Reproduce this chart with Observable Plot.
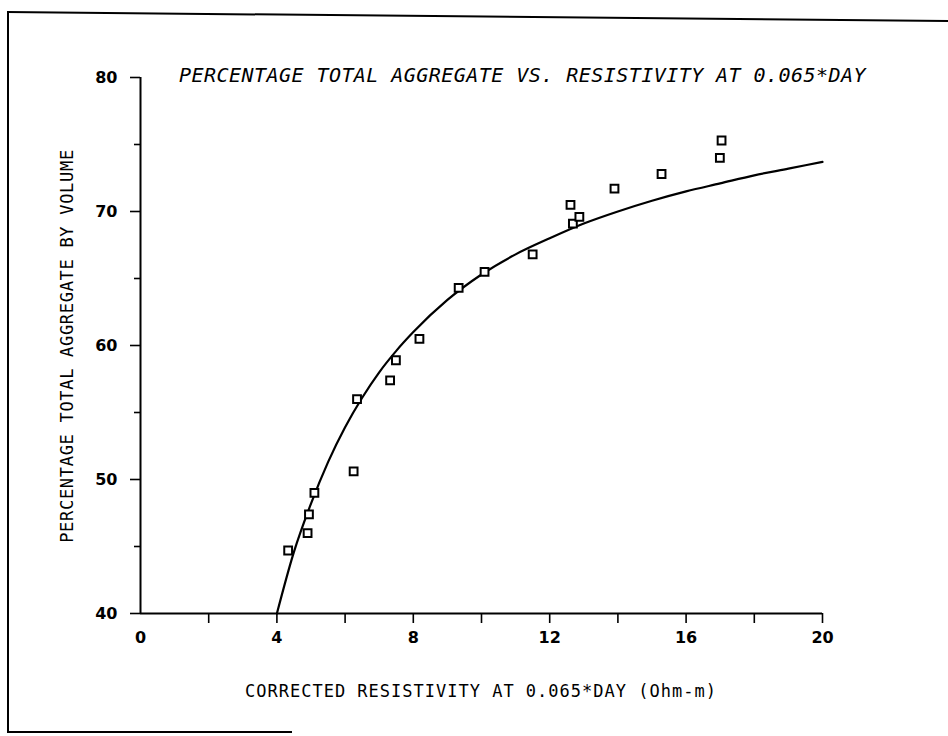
<!DOCTYPE html>
<html>
<head>
<meta charset="utf-8">
<script src="https://cdn.jsdelivr.net/npm/d3@7"></script>
<script src="https://cdn.jsdelivr.net/npm/@observablehq/plot@0.6"></script>
<style>
  html, body { margin: 0; padding: 0; background: #fff; }
  #wrap { position: relative; width: 948px; height: 736px; overflow: hidden; background: #fff; }
  #chart { position: absolute; left: 0; top: 0; }
  .lbl { position: absolute; white-space: nowrap; color: #000; font-family: "DejaVu Sans Mono", monospace; line-height: 20px; }
  #title { left: 179px; top: 65px; font-size: 20px; font-style: oblique; letter-spacing: 0.45px; }
  #xlabel { left: 245px; top: 681px; font-size: 17px; letter-spacing: 1.0px; }
  #ylabel { left: 67px; top: 346px; font-size: 17px; letter-spacing: 0.7px; transform: translate(-50%, -50%) rotate(-90deg); }
  .edge { position: absolute; background: #000; }
</style>
</head>
<body>
<div id="wrap">
  <div id="chart"></div>
  <div class="lbl" id="title"></div>
  <div class="lbl" id="xlabel"></div>
  <div class="lbl" id="ylabel"></div>
  <div class="edge" style="left:7px; top:11px; width:2px; height:722px;"></div>
  <div class="edge" style="left:7px; top:11px; width:945px; height:2px; transform-origin:0 0; transform:rotate(0.55deg);"></div>
  <div class="edge" style="left:7px; top:731px; width:285px; height:2px;"></div>
</div>
<script>
// ---- text ----
const titleText = "PERCENTAGE TOTAL AGGREGATE VS. RESISTIVITY AT 0.065*DAY";
const xLabelText = "CORRECTED RESISTIVITY AT 0.065*DAY (Ohm-m)";
const yLabelText = "PERCENTAGE TOTAL AGGREGATE BY VOLUME";

// ---- ticks ----
const xTickLabels = [0, 4, 8, 12, 16, 20];
const xTickMarks = [2, 4, 6, 8, 10, 12, 14, 16, 18, 20];
const yTickLabels = [40, 50, 60, 70, 80];
const yMinorTicks = [45, 55, 65, 75];

const resistivity = [4.33, 4.90, 4.94, 5.10, 6.25, 6.35, 7.32, 7.49, 8.18, 9.33, 10.09, 11.50, 12.61, 12.68, 12.87, 13.90, 15.28, 16.99, 17.04];
const aggregate   = [44.7, 46.0, 47.4, 49.0, 50.6, 56.0, 57.4, 58.9, 60.5, 64.3, 65.5, 66.8, 70.5, 69.1, 69.6, 71.7, 72.8, 74.0, 75.3];

// ---- fitted curve ----
const curveX = [4, 4.5, 5, 5.5, 6, 6.5, 7, 7.5, 8, 9, 10, 11, 12, 13, 14, 15, 16, 17, 18, 19, 20];
const curveY = [40, 44.6, 48.2, 51.3, 53.9, 56.1, 58.0, 59.6, 61.0, 63.4, 65.3, 66.8, 68.0, 69.1, 70.0, 70.8, 71.5, 72.1, 72.7, 73.2, 73.7];

const points = resistivity.map((x, i) => ({x, y: aggregate[i]}));
const curve = curveX.map((x, i) => ({x, y: curveY[i]}));

document.getElementById("title").textContent = titleText;
document.getElementById("xlabel").textContent = xLabelText;
document.getElementById("ylabel").textContent = yLabelText;

const chart = Plot.plot({
  width: 948,
  height: 736,
  marginLeft: 140,
  marginRight: 126,
  marginTop: 77,
  marginBottom: 123,
  x: {domain: [0, 20]},
  y: {domain: [40, 80]},
  style: {fontFamily: "DejaVu Sans", fontSize: "16px", color: "black", background: "transparent"},
  marks: [
    Plot.axisX({ticks: xTickLabels, tickSize: 0, tickPadding: 18, label: null, fontSize: 16, fontWeight: "bold"}),
    Plot.axisX({ticks: xTickMarks, tickSize: 10, text: null, label: null, strokeWidth: 1.6}),
    Plot.axisY({ticks: yTickLabels, tickSize: 10, tickPadding: 13, label: null, fontSize: 16, fontWeight: "bold", strokeWidth: 1.6}),
    Plot.axisY({ticks: yMinorTicks, tickSize: 6, text: null, label: null, strokeWidth: 1.6}),
    Plot.ruleY([40], {stroke: "black", strokeWidth: 2}),
    Plot.ruleX([0], {stroke: "black", strokeWidth: 2}),
    Plot.line(curve, {x: "x", y: "y", curve: "monotone-x", stroke: "black", strokeWidth: 2.2}),
    Plot.dot(points, {x: "x", y: "y", symbol: "square", r: 4.4, stroke: "black", strokeWidth: 2, fill: "white"})
  ]
});
document.getElementById("chart").appendChild(chart);
</script>
</body>
</html>
